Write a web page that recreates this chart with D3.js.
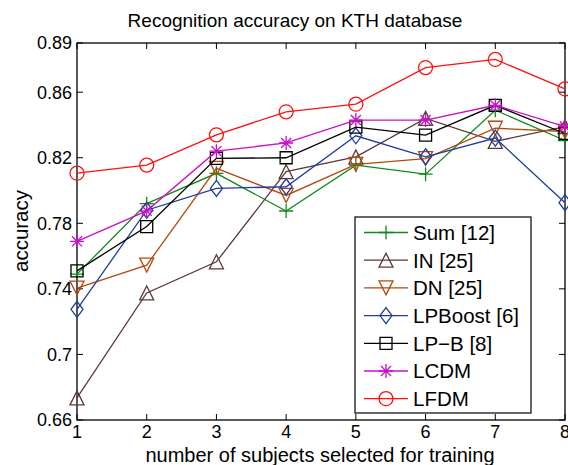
<!DOCTYPE html>
<html>
<head>
<meta charset="utf-8">
<script src="https://cdn.jsdelivr.net/npm/d3@7"></script>
<style>
  body { margin: 0; background: #fff; }
  svg { display: block; font-family: "Liberation Sans", Arial, sans-serif; }
</style>
</head>
<body>
<svg id="chart"></svg>
<script>
// DATA
const subjects = [1, 2, 3, 4, 5, 6, 7, 8];
const seriesNames = ["Sum [12]", "IN [25]", "DN [25]", "LPBoost [6]", "LP\u2212B [8]", "LCDM", "LFDM"];
const sumVals     = [0.749, 0.792, 0.8105, 0.7875, 0.8155, 0.810, 0.849, 0.8305];
const inVals      = [0.6735, 0.7375, 0.7565, 0.8115, 0.8205, 0.844, 0.830, 0.839];
const dnVals      = [0.7405, 0.7545, 0.8135, 0.797, 0.816, 0.8195, 0.838, 0.836];
const lpboostVals = [0.7275, 0.788, 0.8013, 0.8023, 0.8334, 0.8206, 0.832, 0.7926];
const lpbVals     = [0.751, 0.778, 0.8196, 0.820, 0.8387, 0.8338, 0.852, 0.8348];
const lcdmVals    = [0.769, 0.7876, 0.824, 0.829, 0.843, 0.843, 0.852, 0.839];
const lfdmVals    = [0.8106, 0.8155, 0.834, 0.848, 0.8527, 0.875, 0.880, 0.862];
const yTicks = [0.66, 0.7, 0.74, 0.78, 0.82, 0.86, 0.89];

const width = 568, height = 465;
const svg = d3.select("#chart").attr("width", width).attr("height", height);

// ESCALAS
const x = d3.scaleLinear().domain([1, 8]).range([77, 565]);
const y = d3.scaleLinear().domain([0.66, 0.89]).range([420, 43]);

const colors = ["#12881a", "#5c3a36", "#b4490e", "#1f3d9e", "#000000", "#c810c8", "#ff1010"];
const markers = ["plus", "triUp", "triDown", "diamond", "square", "star", "circle"];
const allVals = [sumVals, inVals, dnVals, lpboostVals, lpbVals, lcdmVals, lfdmVals];

// marker paths centered at 0,0
function markerPath(type) {
  const s = 7;
  switch (type) {
    case "plus": return `M${-s},0H${s}M0,${-s}V${s}`;
    case "star": {
      const d = s * 0.72;
      return `M${-s},0H${s}M0,${-s}V${s}M${-d},${-d}L${d},${d}M${-d},${d}L${d},${-d}`;
    }
    case "triUp": return `M0,${-s}L${s},${s}L${-s},${s}Z`;
    case "triDown": return `M0,${s}L${s},${-s}L${-s},${-s}Z`;
    case "diamond": return `M0,${-s - 1}L${s - 1},0L0,${s + 1}L${-s + 1},0Z`;
    case "square": return `M-6,-6H6V6H-6Z`;
    case "circle": return d3.arc()({innerRadius: 0, outerRadius: s, startAngle: 0, endAngle: 2 * Math.PI});
  }
}

// EJES (caja con ticks hacia dentro)
const axisG = svg.append("g").attr("font-size", 18).attr("fill", "#000");
const tickLen = 6;

subjects.forEach(v => {
  axisG.append("line").attr("x1", x(v)).attr("x2", x(v)).attr("y1", 420).attr("y2", 420 - tickLen).attr("stroke", "#000");
  axisG.append("line").attr("x1", x(v)).attr("x2", x(v)).attr("y1", 43).attr("y2", 43 + tickLen).attr("stroke", "#000");
  axisG.append("text").attr("x", x(v)).attr("y", 438).attr("text-anchor", "middle").text(v);
});
yTicks.forEach(v => {
  axisG.append("line").attr("x1", 77).attr("x2", 77 + tickLen).attr("y1", y(v)).attr("y2", y(v)).attr("stroke", "#000");
  axisG.append("line").attr("x1", 565).attr("x2", 565 - tickLen).attr("y1", y(v)).attr("y2", y(v)).attr("stroke", "#000");
  axisG.append("text").attr("x", 72).attr("y", y(v)).attr("dy", "0.36em").attr("text-anchor", "end").text(d3.format("")(v));
});
svg.append("rect").attr("x", 77).attr("y", 43).attr("width", 488).attr("height", 377)
  .attr("fill", "none").attr("stroke", "#000").attr("stroke-width", 1.3);

// SERIES
const line = d3.line().x((d, i) => x(subjects[i])).y(d => y(d));
allVals.forEach((vals, k) => {
  const g = svg.append("g");
  g.append("path").attr("d", line(vals)).attr("fill", "none").attr("stroke", colors[k]).attr("stroke-width", 1.3);
  g.selectAll("path.m").data(vals).enter().append("path").attr("class", "m")
    .attr("d", markerPath(markers[k]))
    .attr("transform", (d, i) => `translate(${x(subjects[i])},${y(d)})`)
    .attr("fill", "none").attr("stroke", colors[k]).attr("stroke-width", 1.3);
});

// LEYENDA
const leg = svg.append("g");
leg.append("rect").attr("x", 355).attr("y", 217).attr("width", 176).attr("height", 196)
  .attr("fill", "#fff").attr("stroke", "#000").attr("stroke-width", 1.2);
seriesNames.forEach((name, k) => {
  const ly = 232.5 + k * 27.7;
  leg.append("line").attr("x1", 364).attr("x2", 408).attr("y1", ly).attr("y2", ly).attr("stroke", colors[k]).attr("stroke-width", 1.3);
  leg.append("path").attr("d", markerPath(markers[k])).attr("transform", `translate(386,${ly})`)
    .attr("fill", "none").attr("stroke", colors[k]).attr("stroke-width", 1.3);
  leg.append("text").attr("x", 413).attr("y", ly).attr("dy", "0.36em").attr("font-size", 20.5).text(name);
});

// TITULOS
svg.append("text").attr("x", 295).attr("y", 27).attr("text-anchor", "middle").attr("font-size", 19)
  .text("Recognition accuracy on KTH database");
svg.append("text").attr("x", 320).attr("y", 462).attr("text-anchor", "middle").attr("font-size", 20)
  .text("number of subjects selected for training");
svg.append("text").attr("transform", "translate(28,231) rotate(-90)").attr("text-anchor", "middle").attr("font-size", 20.5)
  .text("accuracy");
</script>
</body>
</html>
